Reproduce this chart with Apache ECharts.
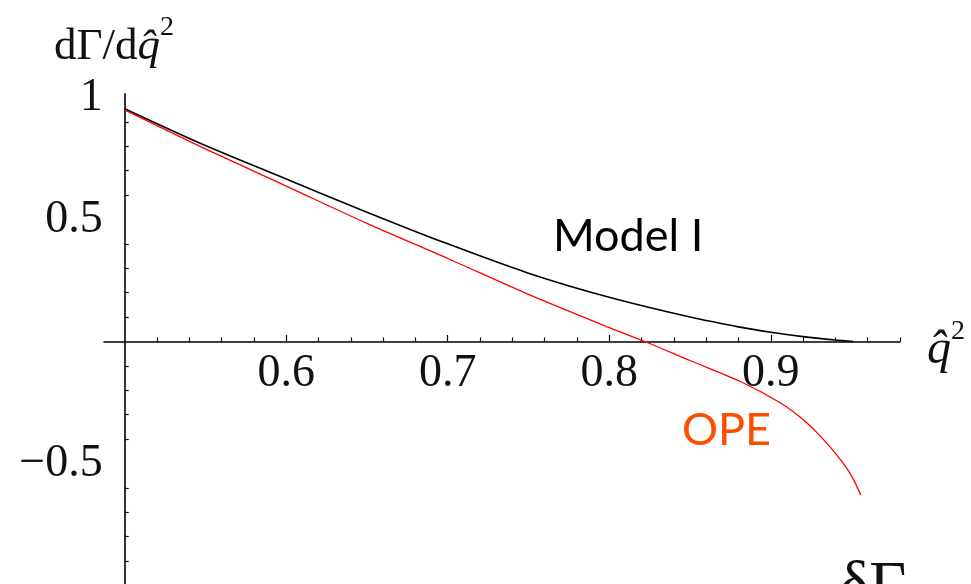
<!DOCTYPE html>
<html>
<head>
<meta charset="utf-8">
<script src="https://cdn.jsdelivr.net/npm/echarts@6/dist/echarts.min.js"></script>
<style>
html,body{margin:0;padding:0;background:#fff;}
#chart{width:971px;height:584px;}
</style>
</head>
<body>
<div id="chart"></div>
<script>
// Data
const modelX = [0.5, 0.55, 0.6, 0.65, 0.7, 0.75, 0.8, 0.85, 0.88, 0.9, 0.92, 0.94, 0.951];
const modelY = [0.954, 0.803, 0.666, 0.530, 0.400, 0.280, 0.181, 0.100, 0.060, 0.038, 0.020, 0.006, 0.0];
const opeX = [0.5, 0.55, 0.6, 0.65, 0.7, 0.75, 0.8, 0.822, 0.85, 0.8815, 0.9063, 0.92, 0.931, 0.9434, 0.95, 0.9557];
const opeY = [0.949, 0.789, 0.637, 0.484, 0.340, 0.193, 0.057, 0.0, -0.078, -0.165, -0.253, -0.320, -0.390, -0.486, -0.551, -0.629];
const xMinorTicks = [0.52,0.54,0.56,0.58,0.62,0.64,0.66,0.68,0.72,0.74,0.76,0.78,0.82,0.84,0.86,0.88,0.92,0.94,0.96,0.98];
const xMajorTicks = [0.6, 0.7, 0.8, 0.9];
const xTickLabels = [0.6, 0.7, 0.8, 0.9];
const yMinorTicks = [-0.9,-0.8,-0.7,-0.6,-0.4,-0.3,-0.2,-0.1,0.1,0.2,0.3,0.4,0.6,0.7,0.8,0.9];
const yTickLabels = [-0.5, 0.5, 1];

const serif = '"Liberation Serif", "DejaVu Serif", serif';
const sans = 'Lato, "Open Sans", sans-serif';

const xRange = {min: 0.4872, max: 0.98};
const yRange = {min: -1, max: 1.015};

// plot geometry: y = 0 sits at pixel 341.5 (244 px per unit)
const gridLeft = 104, gridWidth = 796, gridTop = 93.8, gridHeight = 491.7;
const zeroRowHeight = gridHeight * (yRange.max - 0) / (yRange.max - yRange.min);

const chart = echarts.init(document.getElementById('chart'), null, {renderer: 'canvas'});
const option = {
  animation: false,
  backgroundColor: '#fff',
  grid: [
    {left: gridLeft, top: gridTop, width: gridWidth, height: gridHeight, containLabel: false, outerBoundsMode: 'none'},
    // upper half grid whose bottom edge is the y = 0 line: carries major ticks and x labels
    {left: gridLeft, top: gridTop, width: gridWidth, height: zeroRowHeight, containLabel: false, outerBoundsMode: 'none'}
  ],
  xAxis: [
    {
      gridIndex: 0, type: 'value', min: xRange.min, max: xRange.max,
      axisLine: {show: true, onZero: true, onZeroAxisIndex: 0, lineStyle: {color: '#000', width: 1.6}},
      axisTick: {show: true, inside: true, length: 4, customValues: xMinorTicks, lineStyle: {color: '#000', width: 1.2}},
      axisLabel: {show: false},
      splitLine: {show: false}
    },
    {
      gridIndex: 1, type: 'value', min: xRange.min, max: xRange.max, position: 'bottom',
      axisLine: {show: false, onZero: false},
      axisTick: {show: true, inside: true, length: 6.5, customValues: xMajorTicks, lineStyle: {color: '#000', width: 1.2}},
      axisLabel: {show: true, customValues: xTickLabels, margin: 9, color: '#111', fontFamily: serif, fontSize: 46,
        formatter: v => String(v)},
      splitLine: {show: false}
    }
  ],
  yAxis: [
    {
      gridIndex: 0, type: 'value', min: yRange.min, max: yRange.max, offset: -20.7,
      axisLine: {show: true, onZero: false, lineStyle: {color: '#000', width: 1.6}},
      axisTick: {show: true, inside: true, length: 4, customValues: yMinorTicks, lineStyle: {color: '#000', width: 1.2}},
      axisLabel: {show: true, customValues: yTickLabels, margin: 22, color: '#111', fontFamily: serif, fontSize: 46,
        formatter: v => (v < 0 ? '\u2212' + String(-v) : String(v))},
      splitLine: {show: false}
    },
    {
      gridIndex: 1, type: 'value', min: 0, max: yRange.max, show: false,
      axisLine: {onZero: false}, splitLine: {show: false}
    }
  ],
  series: [
    {
      name: 'Model I', type: 'line', xAxisIndex: 0, yAxisIndex: 0,
      data: modelX.map((x, i) => [x, modelY[i]]),
      showSymbol: false, smooth: 0.3, lineStyle: {color: '#000', width: 1.6}, z: 3
    },
    {
      name: 'OPE', type: 'line', xAxisIndex: 0, yAxisIndex: 0,
      data: opeX.map((x, i) => [x, opeY[i]]),
      showSymbol: false, smooth: 0.3, lineStyle: {color: '#ff0000', width: 1.3}, z: 4
    }
  ],
  graphic: [
    {type: 'text', x: 54, y: 14, style: {text: '{a|d\u0393/d}{b|q\u0302}{c|2}', rich: {
      a: {fontFamily: serif, fontSize: 45, fill: '#111', lineHeight: 56, verticalAlign: 'bottom'},
      b: {fontFamily: serif, fontSize: 45, fontStyle: 'italic', fill: '#111', lineHeight: 56, verticalAlign: 'bottom'},
      c: {fontFamily: serif, fontSize: 28, fill: '#111', lineHeight: 56, verticalAlign: 'top'}
    }}},
    {type: 'text', x: 927, y: 318, style: {text: '{b|q\u0302}{c|2}', rich: {
      b: {fontFamily: serif, fontSize: 48, fontStyle: 'italic', fill: '#111', lineHeight: 56, verticalAlign: 'bottom'},
      c: {fontFamily: serif, fontSize: 28, fill: '#111', lineHeight: 56, verticalAlign: 'top'}
    }}},
    {type: 'text', x: 553, y: 214, style: {text: 'Model I', fontFamily: sans, fontSize: 45, fill: '#000'}},
    {type: 'text', x: 682, y: 408, style: {text: 'OPE', fontFamily: sans, fontSize: 45, fill: '#ff4d00'}},
    {type: 'text', x: 839, y: 556, style: {text: '\u03b4\u0393', fontFamily: serif, fontSize: 64, fill: '#111'}}
  ]
};
chart.setOption(option);
</script>
</body>
</html>
